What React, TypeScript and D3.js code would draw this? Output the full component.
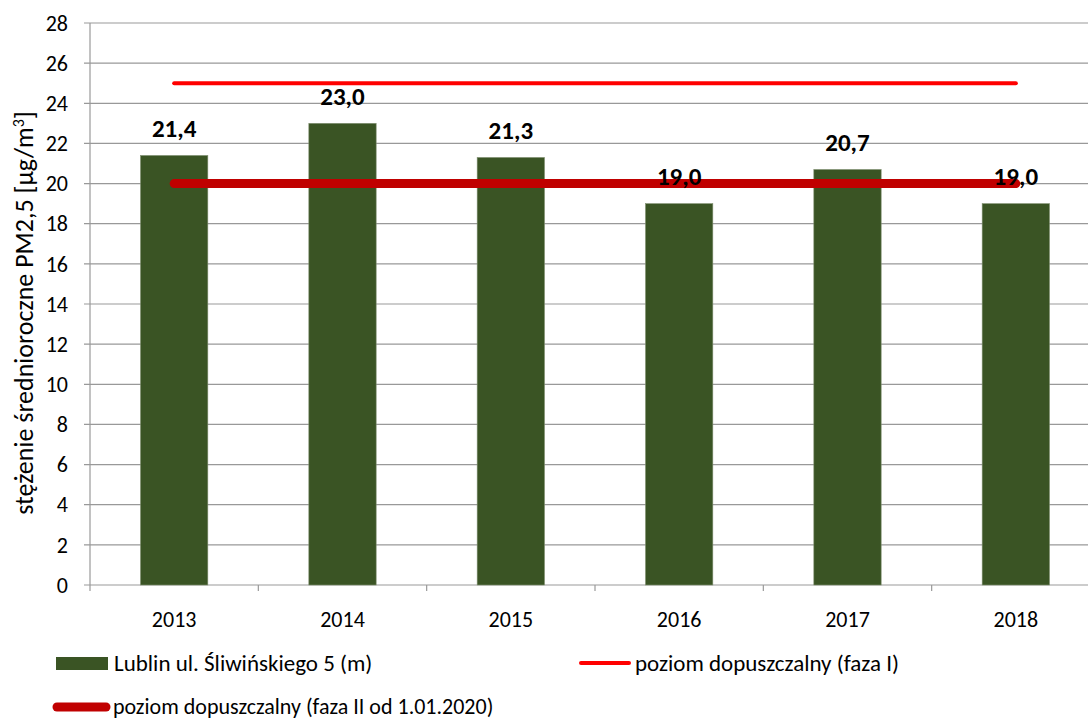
import { useEffect, useRef } from 'react';
import * as d3 from 'd3';

const years = ['2013', '2014', '2015', '2016', '2017', '2018'];
const values = [21.4, 23.0, 21.3, 19.0, 20.7, 19.0];
const limitPhase1 = [25, 25, 25, 25, 25, 25];
const limitPhase2 = [20, 20, 20, 20, 20, 20];
const yTicks = [0, 2, 4, 6, 8, 10, 12, 14, 16, 18, 20, 22, 24, 26, 28];

const FONT = 'Carlito, Calibri, Lato, "Open Sans", sans-serif';

export default function App() {
  const ref = useRef<SVGSVGElement>(null);

  useEffect(() => {
    const width = 1088, height = 720;
    const left = 90, right = 1100, top = 23, bottom = 585;
    const svg = d3.select(ref.current);
    svg.selectAll('*').remove();
    svg.attr('width', width).attr('height', height).style('font-family', FONT);

    const x = d3.scaleBand().domain(years).range([left, right]);
    const y = d3.scaleLinear().domain([0, 28]).range([bottom, top]);

    // gridlines
    svg.append('g')
      .selectAll('line')
      .data(yTicks)
      .join('line')
      .attr('x1', left - 6)
      .attr('x2', right)
      .attr('y1', d => y(d))
      .attr('y2', d => y(d))
      .attr('stroke', '#999')
      .attr('stroke-width', 1.2);

    svg.append('g')
      .selectAll('text')
      .data(yTicks)
      .join('text')
      .attr('x', 68)
      .attr('y', d => y(d))
      .attr('dy', '0.35em')
      .attr('text-anchor', 'end')
      .attr('font-size', 22)
      .text(d => d);

    // axes lines
    svg.append('line')
      .attr('x1', left).attr('x2', left)
      .attr('y1', top).attr('y2', bottom)
      .attr('stroke', '#999').attr('stroke-width', 1.2);

    const bounds = years.map(d => x(d)!).concat([right]);
    svg.append('g')
      .selectAll('line')
      .data(bounds)
      .join('line')
      .attr('x1', d => d).attr('x2', d => d)
      .attr('y1', bottom).attr('y2', bottom + 6)
      .attr('stroke', '#999').attr('stroke-width', 1.2);

    svg.append('g')
      .selectAll('text')
      .data(years)
      .join('text')
      .attr('x', d => x(d)! + x.bandwidth() / 2)
      .attr('y', 619)
      .attr('dy', '0.35em')
      .attr('text-anchor', 'middle')
      .attr('font-size', 22)
      .text(d => d);

    // bars
    const bw = x.bandwidth() * 0.4;
    svg.append('g')
      .selectAll('rect')
      .data(values)
      .join('rect')
      .attr('x', (d, i) => x(years[i])! + x.bandwidth() / 2 - bw / 2)
      .attr('y', d => y(d))
      .attr('width', bw)
      .attr('height', d => bottom - y(d))
      .attr('fill', '#3A5424')
      .attr('stroke', '#7F8F6F')
      .attr('stroke-width', 0.6);

    // limit lines
    const line = d3.line<number>()
      .x((d, i) => x(years[i])! + x.bandwidth() / 2)
      .y(d => y(d));

    svg.append('path')
      .attr('d', line(limitPhase1))
      .attr('fill', 'none')
      .attr('stroke', '#FF0000')
      .attr('stroke-width', 4)
      .attr('stroke-linecap', 'round');

    svg.append('path')
      .attr('d', line(limitPhase2))
      .attr('fill', 'none')
      .attr('stroke', '#C00000')
      .attr('stroke-width', 9)
      .attr('stroke-linecap', 'round');

    // value labels
    svg.append('g')
      .selectAll('text')
      .data(values)
      .join('text')
      .attr('x', (d, i) => x(years[i])! + x.bandwidth() / 2)
      .attr('y', d => y(d) - 27)
      .attr('dy', '0.35em')
      .attr('text-anchor', 'middle')
      .attr('font-size', 25)
      .attr('font-weight', 'bold')
      .text(d => d.toFixed(1).replace('.', ','));

    // y axis title
    const yt = svg.append('text')
      .attr('transform', 'translate(24, 313) rotate(-90)')
      .attr('dy', '0.35em')
      .attr('text-anchor', 'middle')
      .attr('font-size', 26);
    yt.append('tspan').text('stężenie średnioroczne PM2,5 [µg/m');
    yt.append('tspan').attr('font-size', 16).attr('dy', -9).text('3');
    yt.append('tspan').attr('dy', 9).text(']');

    // legend
    const lg = svg.append('g').attr('font-size', 23);
    lg.append('rect').attr('x', 56).attr('y', 657).attr('width', 52).attr('height', 13).attr('fill', '#3A5424');
    lg.append('text').attr('x', 114).attr('y', 663).attr('dy', '0.35em').text('Lublin ul. Śliwińskiego 5 (m)');

    lg.append('line').attr('x1', 581).attr('x2', 629).attr('y1', 663).attr('y2', 663)
      .attr('stroke', '#FF0000').attr('stroke-width', 4).attr('stroke-linecap', 'round');
    lg.append('text').attr('x', 635).attr('y', 663).attr('dy', '0.35em').text('poziom dopuszczalny (faza I)');

    lg.append('line').attr('x1', 57).attr('x2', 106).attr('y1', 707).attr('y2', 707)
      .attr('stroke', '#C00000').attr('stroke-width', 9).attr('stroke-linecap', 'round');
    lg.append('text').attr('x', 113).attr('y', 706).attr('dy', '0.35em').attr('font-size', 22)
      .text('poziom dopuszczalny (faza II od 1.01.2020)');
  }, []);

  return <svg ref={ref} style={{ position: 'absolute', left: 0, top: 0 }}></svg>;
}
